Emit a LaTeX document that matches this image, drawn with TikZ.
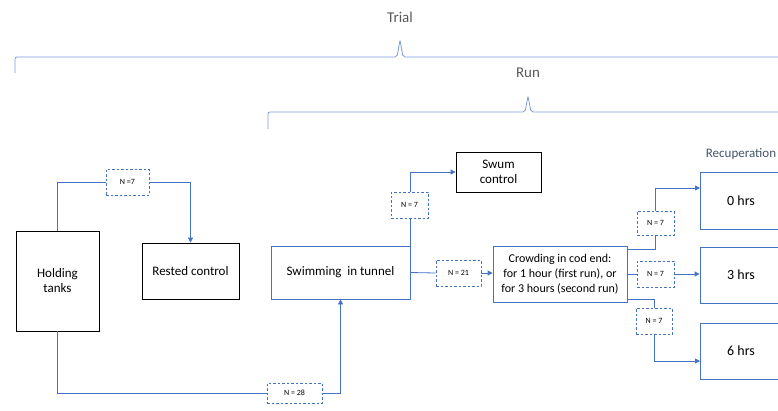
\documentclass[tikz,border=0pt]{standalone}
\usepackage{fontspec}
\setmainfont{Carlito}
\usetikzlibrary{arrows.meta}
\definecolor{lblue}{HTML}{4472C4}
\definecolor{bblue}{HTML}{7A9BD6}
\definecolor{tgray}{HTML}{595959}
\definecolor{rgray}{HTML}{44546A}
\tikzset{
  bbox/.style={draw=black, thick, fill=white, align=center, font=\fontsize{13}{15}\selectfont, inner sep=0pt},
  blbox/.style={draw=lblue, thick, fill=white, align=center, font=\fontsize{13}{15}\selectfont, inner sep=0pt},
  nbox/.style={draw=lblue, thick, dashed, dash pattern=on 2.5pt off 2pt, fill=white, font=\fontsize{8}{9}\selectfont, inner sep=0pt},
  conn/.style={draw=lblue, thick},
  arr/.style={conn, -{Triangle[length=5pt,width=5pt]}},
  brace/.style={draw=bblue, thick, rounded corners=2pt}
}
\begin{document}
\begin{tikzpicture}[x=1pt,y=-1pt]
\useasboundingbox (0,0) rectangle (778,410);
\clip (0,0) rectangle (778,410);
% braces
\draw[brace] (15,73) -- (15,57) -- (397,57) -- (400,40) -- (403,57) -- (790,57);
\draw[brace] (268,129) -- (268,112) -- (525,112) -- (528,96) -- (531,112) -- (790,112);
\node[text=tgray, font=\fontsize{15}{17}\selectfont] (trial) at (400,17) {Trial};
\node[text=tgray, font=\fontsize{15}{17}\selectfont] (run) at (528,73) {Run};
\node[text=rgray, font=\fontsize{13}{15}\selectfont] (recup) at (741,154) {Recuperation};
% boxes
\node[bbox, minimum width=83pt, minimum height=100pt] (hold) at (57.5,281) {Holding\\tanks};
\node[bbox, minimum width=97pt, minimum height=56pt] (rest) at (190.5,271) {Rested control};
\node[blbox, minimum width=139pt, minimum height=53pt] (swim) at (340.5,272.5) {Swimming\ \ in tunnel};
\node[bbox, minimum width=85pt, minimum height=40pt] (swum) at (498.5,172) {Swum\\control};
\node[blbox, minimum width=134pt, minimum height=56pt, font=\fontsize{12}{15}\selectfont] (crowd) at (560,274) {Crowding in cod end:\\for 1 hour (first run), or\\for 3 hours (second run)};
\node[blbox, minimum width=82pt, minimum height=57pt, font=\fontsize{14}{16}\selectfont] (h0) at (741,200.5) {0 hrs};
\node[blbox, minimum width=82pt, minimum height=56pt, font=\fontsize{14}{16}\selectfont] (h3) at (741,275) {3 hrs};
\node[blbox, minimum width=82pt, minimum height=56pt, font=\fontsize{14}{16}\selectfont] (h6) at (741,351) {6 hrs};
% N boxes
\node[nbox, minimum width=43pt, minimum height=26pt] (n7a) at (127.5,182) {N =7};
\node[nbox, minimum width=37pt, minimum height=26pt] (n7b) at (409.5,205) {N = 7};
\node[nbox, minimum width=45pt, minimum height=26pt] (n21) at (458.5,273) {N = 21};
\node[nbox, minimum width=55pt, minimum height=20pt] (n28) at (294.5,393) {N = 28};
\node[nbox, minimum width=37pt, minimum height=24pt] (n7c) at (655.5,223) {N = 7};
\node[nbox, minimum width=37pt, minimum height=26pt] (n7d) at (655.5,274) {N = 7};
\node[nbox, minimum width=36pt, minimum height=26pt] (n7e) at (654,321) {N = 7};
% helper coordinates
\coordinate (c1) at (627,249);
\coordinate (c3) at (627,299);
\coordinate (a0) at (700,188);
\coordinate (a6) at (700,361);
% connectors
\draw[conn] (hold.north) |- (n7a.west);
\draw[arr] (n7a.east) -| (rest.north);
\draw[conn] (hold.south) |- (n28.west);
\draw[arr] (n28.east) -| (swim.south);
\draw[conn] (swim.north east) -- (n7b.south -| swim.north east);
\draw[arr] (n7b.north -| swim.north east) |- (swum.west);
\draw[conn] (swim.east) -- (n21.west);
\draw[arr] (n21.east) -- (crowd.west |- n21.east);
\draw[conn] (c1) -| (n7c.south);
\draw[arr] (n7c.north) |- (a0);
\draw[conn] (crowd.east |- n7d.west) -- (n7d.west);
\draw[arr] (n7d.east) -- (h3.west |- n7d.east);
\draw[conn] (c3) -| (n7e.north);
\draw[arr] (n7e.south) |- (a6);
\end{tikzpicture}
\end{document}
